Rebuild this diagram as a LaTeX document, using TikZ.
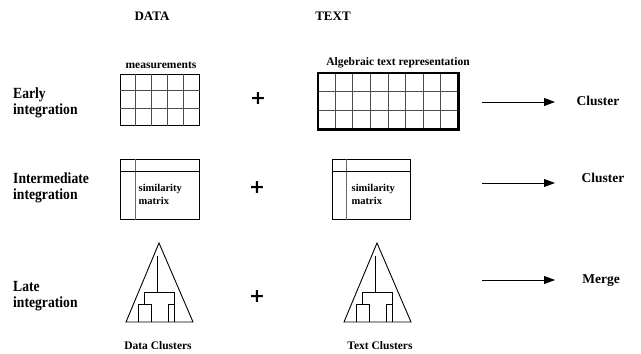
\documentclass[tikz,border=0pt]{standalone}
\usepackage{fontspec}
\setmainfont{Liberation Serif}
\newfontfamily\labelfont{Liberation Serif}[FakeStretch=0.88]
\newfontfamily\plusfont{DejaVu Sans}
\usetikzlibrary{arrows.meta,calc}

\tikzset{
  rowlabel/.style={font=\labelfont\bfseries\fontsize{15.5}{16}\selectfont, align=left, anchor=west, inner sep=0pt},
  heading/.style={font=\bfseries\fontsize{13}{15}\selectfont, inner sep=0pt},
  caption/.style={font=\bfseries\fontsize{11.5}{13}\selectfont, inner sep=0pt},
  cell/.style={font=\bfseries\fontsize{10.5}{13.5}\selectfont, align=left, anchor=north west, inner sep=0pt},
  result/.style={font=\bfseries\fontsize{13.5}{15}\selectfont, inner sep=0pt},
  plus/.style={font=\plusfont\bfseries\fontsize{19}{19}\selectfont, inner sep=0pt},
  boxframe/.style={draw, line width=1pt, inner sep=0pt},
  thickframe/.style={draw, line width=2.6pt},
  gridline/.style={draw=black!70, line width=0.9pt},
  divider/.style={draw=black!60, line width=1.6pt},
  flow/.style={-{Triangle[length=11pt,width=8pt]}, line width=0.9pt},
  tree/.style={line width=0.9pt},
  dendro/.pic={
    \draw[tree] (0,0) -- (34,79) -- (-33,79) -- cycle;
    \draw[tree] (-2,13) -- (-2,49)
                (-15,61) -- (-15,49) -- (15,49) -- (15,79)
                (-21,79) -- (-21,61) -- (-8,61) -- (-8,79)
                (9,79) -- (9,61) -- (15,61);
  }
}

\begin{document}
\begin{tikzpicture}[x=1pt,y=-1pt]
\useasboundingbox (0,0) rectangle (641,354);

% column headings
\node[heading] (hdata) at (152,16) {DATA};
\node[heading] (htext) at (333,16) {TEXT};

% row labels
\node[rowlabel] (early) at (13,103) {Early\\integration};
\node[rowlabel] (inter) at (13,187.5) {Intermediate\\integration};
\node[rowlabel] (late)  at (13,296.5) {Late\\integration};

% ---- early integration: two matrices side by side
\node[caption] (meas) at (161,65) {measurements};
\node[boxframe, minimum width=79pt, minimum height=51pt] (dgrid) at (159.5,99.5) {};
\foreach \i in {1,...,4}
  \draw[gridline] ($(dgrid.north west)!\i/5!(dgrid.north east)$) -- ($(dgrid.south west)!\i/5!(dgrid.south east)$);
\foreach \j in {1,2}
  \draw[gridline] ($(dgrid.north west)!\j/3!(dgrid.south west)$) -- ($(dgrid.north east)!\j/3!(dgrid.south east)$);

\node[plus] (plus1) at (258,99) {+};

\node[caption] (alg) at (398,63) {Algebraic text representation};
\node[inner sep=0pt, minimum width=140pt, minimum height=56pt] (tgrid) at (388,101) {};
\foreach \i in {1,...,7}
  \draw[gridline] ($(tgrid.north west)!\i/8!(tgrid.north east)$) -- ($(tgrid.south west)!\i/8!(tgrid.south east)$);
\foreach \j in {1,2}
  \draw[gridline] ($(tgrid.north west)!\j/3!(tgrid.south west)$) -- ($(tgrid.north east)!\j/3!(tgrid.south east)$);
\draw[thickframe] (tgrid.north west) rectangle (tgrid.south east);

\coordinate (a1s) at (482,102);
\coordinate (a1e) at (555,102);
\draw[flow] (a1s) -- (a1e);
\node[result] (cl1) at (598,101) {Cluster};

% ---- intermediate integration: two similarity matrices
\node[boxframe, minimum width=79pt, minimum height=60pt] (dsim) at (159.5,189) {};
\draw[divider] ([xshift=16pt]dsim.north west) -- ([xshift=16pt]dsim.south west);
\draw[line width=1pt] ([yshift=-13pt]dsim.north west) -- ([yshift=-13pt]dsim.north east);
\node[cell] (dsimtxt) at ([xshift=19pt,yshift=-25.5pt]dsim.north west) {similarity\\matrix};

\node[plus] (plus2) at (257,188) {+};

\node[boxframe, minimum width=78pt, minimum height=60pt] (tsim) at (371,189) {};
\draw[divider] ([xshift=15pt]tsim.north west) -- ([xshift=15pt]tsim.south west);
\draw[line width=1pt] ([yshift=-13pt]tsim.north west) -- ([yshift=-13pt]tsim.north east);
\node[cell] (tsimtxt) at ([xshift=20pt,yshift=-25.5pt]tsim.north west) {similarity\\matrix};

\coordinate (a2s) at (482,183);
\coordinate (a2e) at (555,183);
\draw[flow] (a2s) -- (a2e);
\node[result] (cl2) at (603,178) {Cluster};

% ---- late integration: two dendrograms
\pic (dtree) at (159,243) {dendro};
\node[caption] (dclus) at (158,346) {Data Clusters};

\node[plus] (plus3) at (257,297) {+};

\pic (ttree) at (377,243) {dendro};
\node[caption] (tclus) at (380,346) {Text Clusters};

\coordinate (a3s) at (482,280);
\coordinate (a3e) at (555,280);
\draw[flow] (a3s) -- (a3e);
\node[result] (merge) at (601,281) {Merge};
\end{tikzpicture}
\end{document}
